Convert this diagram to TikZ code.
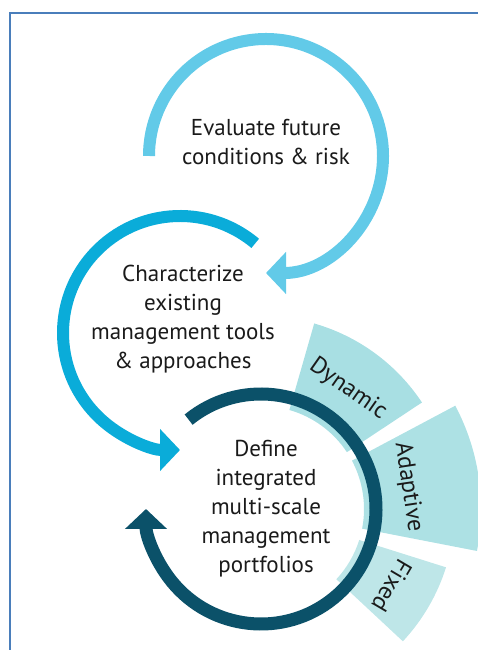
\documentclass[tikz,border=0pt]{standalone}
\usepackage{fontspec}
\setmainfont{PT Sans}
\usetikzlibrary{arrows.meta,calc}

\definecolor{framecol}{HTML}{4A7EBB}
\definecolor{evalblue}{HTML}{62CAE8}
\definecolor{charblue}{HTML}{0AACD9}
\definecolor{defteal}{HTML}{0B5169}
\definecolor{dyncol}{HTML}{A8DFE3}
\definecolor{adacol}{HTML}{ADE1E4}
\definecolor{fixcol}{HTML}{BEE6E8}
\definecolor{textgray}{HTML}{1A1A1A}

\begin{document}
\begin{tikzpicture}[x=1pt,y=1pt,
  ring/.style={line width=12pt},
  ringtip/.style={-{Triangle[length=20pt,width=41pt]}},
  steptext/.style={align=center,text=textgray,font=\fontsize{23}{29}\selectfont},
  bandtext/.style={text=textgray,font=\fontsize{24}{28}\selectfont}]
  \useasboundingbox (0,0) rectangle (478,650);
  \draw[framecol,line width=1.5pt] (10,-2) -- (10,637) -- (480,637);

  \coordinate (c1) at (266,494);
  \coordinate (c2) at (180,317);
  \coordinate (c3) at (261,141);

  % portfolio bands behind the last ring
  \fill[dyncol] ($(c3)+(33.5:103)$) arc[start angle=33.5,end angle=74,radius=103pt]
    -- ($(c3)+(74:193)$) arc[start angle=74,end angle=33.5,radius=193pt] -- cycle;
  \fill[adacol] ($(c3)+(-11:103)$) arc[start angle=-11,end angle=28,radius=103pt]
    -- ($(c3)+(28:220)$) arc[start angle=28,end angle=-11,radius=220pt] -- cycle;
  \fill[fixcol] ($(c3)+(-43:103)$) arc[start angle=-43,end angle=-17.5,radius=103pt]
    -- ($(c3)+(-17.5:194)$) arc[start angle=-17.5,end angle=-43,radius=194pt] -- cycle;

  \draw[ring,evalblue,ringtip] ($(c1)+(180:117)$) arc[start angle=180,end angle=-90,radius=117pt];
  \draw[ring,charblue,ringtip] ($(c2)+(50:117)$) arc[start angle=50,end angle=270,radius=117pt];
  \draw[ring,defteal,line width=13pt,ringtip] ($(c3)+(129:115)$) arc[start angle=129,end angle=-180,radius=115pt];

  \node[steptext] (evaluate) at (266,508) {Evaluate future\\conditions \& risk};
  \node[steptext] (characterize) at (183,331) {Characterize\\existing\\management tools\\\& approaches};
  \node[steptext] (define) at (266,141.5) {Define\\integrated\\multi-scale\\management\\portfolios};

  \node[bandtext,rotate=-35] (dynamic) at ($(c3)+(54:148)$) {Dynamic};
  \node[bandtext,rotate=-81.5] (adaptive) at ($(c3)+(8.5:149)$) {Adaptive};
  \node[bandtext,rotate=-120.5] (fixed) at ($(c3)+(-30.5:152)$) {Fixed};
\end{tikzpicture}
\end{document}
